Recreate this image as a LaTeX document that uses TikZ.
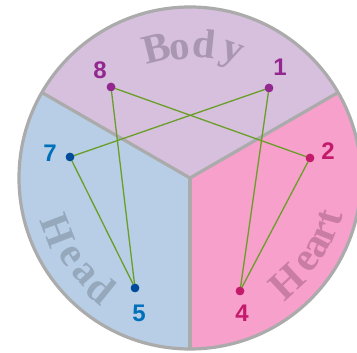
\documentclass[tikz,border=0pt]{standalone}
\usepackage{fontspec}
\usetikzlibrary{calc}
\setmainfont{Liberation Serif}
\newfontfamily\numfont{Liberation Sans}
\definecolor{bodyfill}{HTML}{D6C0DD}
\definecolor{headfill}{HTML}{B7CEE6}
\definecolor{heartfill}{HTML}{F6A0CB}
\definecolor{rimgray}{HTML}{ABABAB}
\definecolor{bodytxt}{HTML}{A996B1}
\definecolor{headtxt}{HTML}{95A8BC}
\definecolor{hearttxt}{HTML}{C97CA4}
\definecolor{purp}{HTML}{93278F}
\definecolor{blu}{HTML}{0070BA}
\definecolor{bludot}{HTML}{004C9A}
\definecolor{mag}{HTML}{C41A6B}
\definecolor{grn}{HTML}{6A9E28}
\tikzset{
  x=1pt, y=1pt,
  rim/.style={draw=rimgray, line width=3.2pt},
  link/.style={draw=grn, line width=1.3pt},
  dotp/.style={circle, fill=#1, inner sep=0pt, minimum size=8.5pt},
  numlbl/.style={text=#1, font=\numfont\bfseries\fontsize{24}{24}\selectfont, inner sep=0pt},
  arcletter/.style={text=#1, font=\bfseries\fontsize{41}{41}\selectfont, inner sep=0pt, anchor=base},
}
\begin{document}
\begin{tikzpicture}
\useasboundingbox (0,0) rectangle (357,353);
\clip (0,0) rectangle (357,353);
\coordinate (C) at (190,175);
% sectors
\fill[bodyfill] (C) -- ++(30:171) arc (30:150:171) -- cycle;
\fill[headfill] (C) -- ++(150:171) arc (150:270:171) -- cycle;
\fill[heartfill] (C) -- ++(270:171) arc (270:390:171) -- cycle;
\draw[rim] (C) circle (171);
\draw[rim] (C) -- ++(30:171);
\draw[rim] (C) -- ++(150:171);
\draw[rim] (C) -- ++(270:171);
% curved words
\node[arcletter=bodytxt, rotate=14] at ($(C)+(104.5:121)$) {B};
\node[arcletter=bodytxt, rotate=5] at ($(C)+(94.5:119)$) {o};
\node[arcletter=bodytxt, rotate=-6] at ($(C)+(84:121)$) {d};
\node[arcletter=bodytxt, rotate=-20] at ($(C)+(71.5:123)$) {y};
\node[arcletter=headtxt, rotate=291] at ($(C)+(201.4:156)$) {H};
\node[arcletter=headtxt, rotate=303] at ($(C)+(213:152)$) {e};
\node[arcletter=headtxt, rotate=312] at ($(C)+(222.3:152)$) {a};
\node[arcletter=headtxt, rotate=321] at ($(C)+(231.4:156)$) {d};
\node[arcletter=hearttxt, rotate=43] at ($(C)+(-47:156)$) {H};
\node[arcletter=hearttxt, rotate=55] at ($(C)+(-35.5:154)$) {e};
\node[arcletter=hearttxt, rotate=61.5] at ($(C)+(-28.5:155)$) {a};
\node[arcletter=hearttxt, rotate=68] at ($(C)+(-22:156)$) {r};
\node[arcletter=hearttxt, rotate=74] at ($(C)+(-16:157)$) {t};
% points
\node[dotp=purp] (p8) at (111,266) {};
\node[dotp=purp] (p1) at (269,265) {};
\node[dotp=bludot] (p7) at (70,196) {};
\node[dotp=mag] (p2) at (310,195) {};
\node[dotp=bludot] (p5) at (135,65) {};
\node[dotp=mag] (p4) at (240,62) {};
% links
\draw[link] (p8.center) -- (p2.center);
\draw[link] (p8.center) -- (p5.center);
\draw[link] (p1.center) -- (p7.center);
\draw[link] (p1.center) -- (p4.center);
\draw[link] (p7.center) -- (p5.center);
\draw[link] (p2.center) -- (p4.center);
% redraw dots on top
\fill[purp] (p8) circle (4.25);
\fill[purp] (p1) circle (4.25);
\fill[bludot] (p7) circle (4.25);
\fill[mag] (p2) circle (4.25);
\fill[bludot] (p5) circle (4.25);
\fill[mag] (p4) circle (4.25);
% labels
\node[numlbl=purp] (l8) at (100,283) {8};
\node[numlbl=purp] (l1) at (280,286) {1};
\node[numlbl=blu] (l7) at (50,200) {7};
\node[numlbl=mag] (l2) at (328,202) {2};
\node[numlbl=blu] (l5) at (139,40) {5};
\node[numlbl=mag] (l4) at (242,40) {4};
\end{tikzpicture}
\end{document}
